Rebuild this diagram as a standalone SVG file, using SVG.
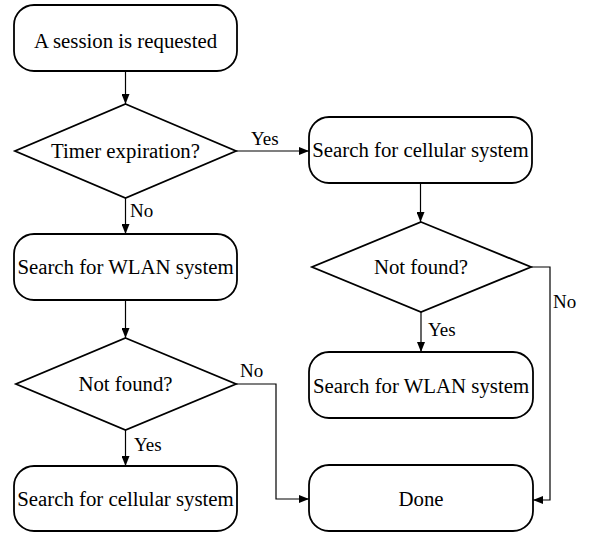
<svg xmlns="http://www.w3.org/2000/svg" width="592" height="536" viewBox="0 0 592 536">
<style>
.box{fill:#fff;stroke:#000;stroke-width:1.8}
.t{font-family:"Liberation Serif","Times New Roman",serif;font-size:20.8px;fill:#000;text-anchor:middle}
.l{font-family:"Liberation Serif","Times New Roman",serif;font-size:19px;fill:#000}
.c{fill:none;stroke:#000;stroke-width:1.2}
</style>
<defs>
<marker id="ah" markerWidth="10" markerHeight="8" refX="10" refY="4" orient="auto" markerUnits="userSpaceOnUse">
<path d="M0,0 L10,4 L0,8 Z" fill="#000"/>
</marker>
</defs>
<g id="connectors">
<line class="c" x1="125.5" y1="71" x2="125.5" y2="104" marker-end="url(#ah)"/>
<line class="c" x1="236" y1="151" x2="309" y2="151" marker-end="url(#ah)"/>
<line class="c" x1="420.5" y1="183" x2="420.5" y2="222" marker-end="url(#ah)"/>
<polyline class="c" points="531,267 550,267 550,500 533,500" marker-end="url(#ah)"/>
<line class="c" x1="421" y1="312" x2="421" y2="352" marker-end="url(#ah)"/>
<line class="c" x1="125.5" y1="198" x2="125.5" y2="234" marker-end="url(#ah)"/>
<line class="c" x1="125.5" y1="300" x2="125.5" y2="338" marker-end="url(#ah)"/>
<polyline class="c" points="236,384 276,384 276,499 309,499" marker-end="url(#ah)"/>
<line class="c" x1="125.5" y1="430" x2="125.5" y2="466" marker-end="url(#ah)"/>
<text class="l" x="251" y="145">Yes</text>
<text class="l" x="130" y="217">No</text>
<text class="l" x="553" y="308">No</text>
<text class="l" x="428" y="336">Yes</text>
<text class="l" x="240" y="377">No</text>
<text class="l" x="134" y="451">Yes</text>
</g>
<g id="start">
<rect class="box" x="14" y="5" width="223" height="66" rx="20"/>
<text class="t" x="125.5" y="48">A session is requested</text>
</g>
<g id="timer">
<polygon class="box" points="125.5,104 236,151 125.5,198 15,151"/>
<text class="t" x="125.5" y="158">Timer expiration?</text>
</g>
<g id="cellular1">
<rect class="box" x="309" y="117" width="223" height="66" rx="20"/>
<text class="t" x="420.5" y="157">Search for cellular system</text>
</g>
<g id="notfound2">
<polygon class="box" points="421,222 531,267 421,312 312,267"/>
<text class="t" x="421" y="274">Not found?</text>
</g>
<g id="wlan2">
<rect class="box" x="309" y="352" width="224" height="66" rx="20"/>
<text class="t" x="421" y="393">Search for WLAN system</text>
</g>
<g id="done">
<rect class="box" x="309" y="465" width="224" height="66" rx="20"/>
<text class="t" x="421" y="506">Done</text>
</g>
<g id="wlan1">
<rect class="box" x="14" y="234" width="223" height="66" rx="20"/>
<text class="t" x="125.5" y="274">Search for WLAN system</text>
</g>
<g id="notfound1">
<polygon class="box" points="125.5,338 236,384 125.5,430 16,384"/>
<text class="t" x="125.5" y="391">Not found?</text>
</g>
<g id="cellular2">
<rect class="box" x="14" y="466" width="223" height="65" rx="20"/>
<text class="t" x="125.5" y="506">Search for cellular system</text>
</g>
</svg>
